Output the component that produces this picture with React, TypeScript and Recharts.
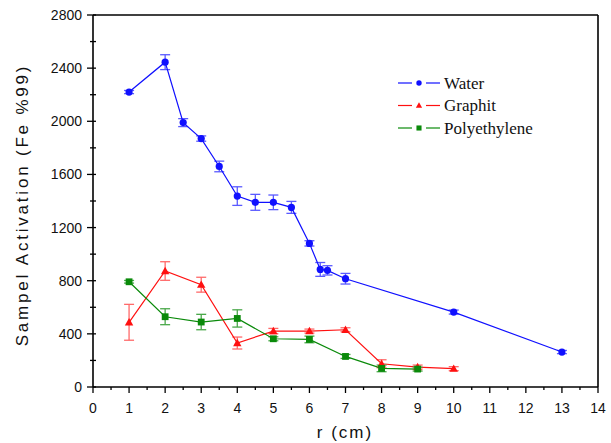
import React from 'react';
import { LineChart, Line, XAxis, YAxis, ErrorBar, Legend } from 'recharts';

// Water
const waterR = [1, 2, 2.5, 3, 3.5, 4, 4.5, 5, 5.5, 6, 6.3, 6.5, 7, 10, 13];
const waterA = [2220, 2445, 1990, 1870, 1660, 1437, 1390, 1390, 1352, 1081, 885, 878, 815, 564, 263];
const waterErr = [12, 56, 30, 20, 40, 70, 60, 55, 45, 20, 52, 35, 40, 15, 12];

// Graphit
const graphitR = [1, 2, 3, 4, 5, 6, 7, 8, 9, 10];
const graphitA = [487, 873, 770, 331, 421, 421, 431, 175, 150, 138];
const graphitErr = [135, 70, 56, 45, 20, 15, 15, 30, 15, 15];

// Polyethylene
const polyR = [1, 2, 3, 4, 5, 6, 7, 8, 9];
const polyA = [792, 529, 489, 516, 363, 358, 230, 140, 135];
const polyErr = [10, 60, 58, 65, 15, 25, 15, 25, 15];

const xTicks = [0, 0.5, 1, 1.5, 2, 2.5, 3, 3.5, 4, 4.5, 5, 5.5, 6, 6.5, 7, 7.5, 8, 8.5, 9, 9.5, 10, 10.5, 11, 11.5, 12, 12.5, 13, 13.5, 14];
const xLabels = [0, 1, 2, 3, 4, 5, 6, 7, 8, 9, 10, 11, 12, 13, 14];
const yTicks = [0, 200, 400, 600, 800, 1000, 1200, 1400, 1600, 1800, 2000, 2200, 2400, 2600, 2800];
const yLabels = [0, 400, 800, 1200, 1600, 2000, 2400, 2800];

const series = [
  { name: 'Water', color: '#1010ff', err: '#5a5aff', shape: 'circle', r: waterR, a: waterA, e: waterErr },
  { name: 'Graphit', color: '#ff1010', err: '#ff6a6a', shape: 'triangle', r: graphitR, a: graphitA, e: graphitErr },
  { name: 'Polyethylene', color: '#0a8a0a', err: '#4aa84a', shape: 'square', r: polyR, a: polyA, e: polyErr },
];

const sans = '"Liberation Sans", Arial, sans-serif';
const serif = '"Liberation Serif", "DejaVu Serif", "Times New Roman", serif';

const Marker = ({ cx, cy, shape, color, size = 1 }: any) => {
  if (cx == null || cy == null) return null;
  if (shape === 'circle') return <circle cx={cx} cy={cy} r={3.6 * size} fill={color} />;
  if (shape === 'triangle') {
    const s = 4.2 * size;
    return <polygon points={`${cx},${cy - s} ${cx - s},${cy + s * 0.75} ${cx + s},${cy + s * 0.75}`} fill={color} />;
  }
  const s = 3.4 * size;
  return <rect x={cx - s} y={cy - s} width={s * 2} height={s * 2} fill={color} />;
};

const BottomTick = (props: any) => {
  const { x, y, payload } = props;
  const major = xLabels.includes(payload.value);
  return (
    <g>
      <line x1={x} x2={x} y1={y} y2={y + (major ? 6 : 3)} stroke="#000" strokeWidth={1.3} />
      {major && (
        <text x={x} y={y + 26} textAnchor="middle" fontSize={14} fontFamily={sans} fill="#111">
          {payload.value}
        </text>
      )}
    </g>
  );
};

const TopTick = (props: any) => {
  const { x, y, payload } = props;
  const major = xLabels.includes(payload.value);
  return <line x1={x} x2={x} y1={y} y2={y + (major ? 6 : 3)} stroke="#000" strokeWidth={1.3} />;
};

const LeftTick = (props: any) => {
  const { x, y, payload } = props;
  const major = yLabels.includes(payload.value);
  return (
    <g>
      <line x1={x - (major ? 6 : 3)} x2={x + 3} y1={y} y2={y} stroke="#000" strokeWidth={1.3} />
      {major && (
        <text x={x - 11} y={y + 5} textAnchor="end" fontSize={14} fontFamily={sans} fill="#111">
          {payload.value}
        </text>
      )}
    </g>
  );
};

const RightTick = (props: any) => {
  const { x, y, payload } = props;
  const major = yLabels.includes(payload.value);
  return <line x1={x} x2={x - (major ? 6 : 3)} y1={y} y2={y} stroke="#000" strokeWidth={1.3} />;
};

const LegendBox = () => (
  <svg width={170} height={72}>
    {series.map((s, i) => {
      const y = 11 + i * 22.5;
      return (
        <g key={s.name}>
          <line x1={2} x2={16} y1={y} y2={y} stroke={s.color} strokeWidth={1.2} />
          <Marker cx={23} cy={y} shape={s.shape} color={s.color} size={0.75} />
          <line x1={30} x2={44} y1={y} y2={y} stroke={s.color} strokeWidth={1.2} />
          <text x={48} y={y + 5.5} fontSize={17} fontFamily={serif} fill="#111">
            {s.name}
          </text>
        </g>
      );
    })}
  </svg>
);

export default function App() {
  return (
    <div style={{ position: 'absolute', left: 0, top: 0, width: 611, height: 443, background: '#fff' }}>
      <LineChart width={611} height={443} margin={{ top: 0, right: 0, bottom: 0, left: 0 }}>
        <XAxis
          xAxisId="b"
          type="number"
          dataKey="r"
          domain={[0, 14]}
          ticks={xTicks}
          interval={0}
          height={56}
          tickSize={0}
          tickMargin={0}
          tick={<BottomTick />}
          axisLine={{ stroke: '#000', strokeWidth: 1.6 }}
          allowDataOverflow
        />
        <XAxis
          xAxisId="t"
          orientation="top"
          type="number"
          dataKey="r"
          domain={[0, 14]}
          ticks={xTicks}
          interval={0}
          height={15}
          tickSize={0}
          tickMargin={0}
          tick={<TopTick />}
          axisLine={{ stroke: '#000', strokeWidth: 1.6 }}
        />
        <YAxis
          yAxisId="l"
          type="number"
          domain={[0, 2800]}
          ticks={yTicks}
          interval={0}
          width={93}
          tickSize={0}
          tickMargin={0}
          tick={<LeftTick />}
          axisLine={{ stroke: '#000', strokeWidth: 1.6 }}
          allowDataOverflow
        />
        <YAxis
          yAxisId="r"
          orientation="right"
          type="number"
          domain={[0, 2800]}
          ticks={yTicks}
          interval={0}
          width={13}
          tickSize={0}
          tickMargin={0}
          tick={<RightTick />}
          axisLine={{ stroke: '#000', strokeWidth: 1.6 }}
        />
        <Legend
          content={<LegendBox />}
          layout="vertical"
          verticalAlign="middle"
          align="center"
          wrapperStyle={{ position: 'absolute', left: 396, top: 72, width: 170 }}
        />
        {series.map((s) => (
          <Line
            key={s.name}
            name={s.name}
            xAxisId="b"
            yAxisId="l"
            data={s.r.map((r, i) => ({ r, a: s.a[i], err: s.e[i] }))}
            dataKey="a"
            type="linear"
            stroke={s.color}
            strokeWidth={1.2}
            isAnimationActive={false}
            dot={(p: any) => <Marker key={`${s.name}-${p.index}`} cx={p.cx} cy={p.cy} shape={s.shape} color={s.color} />}
            activeDot={false}
          >
            <ErrorBar dataKey="err" direction="y" width={5} stroke={s.err} strokeWidth={1.3} isAnimationActive={false} />
          </Line>
        ))}
      </LineChart>
      <svg width={611} height={443} style={{ position: 'absolute', left: 0, top: 0, pointerEvents: 'none' }}>
        <text x={345} y={438} textAnchor="middle" fontSize={17} letterSpacing={2} fontFamily={sans} fill="#111">
          r (cm)
        </text>
        <text
          x={0}
          y={0}
          transform="translate(28,205) rotate(-90)"
          textAnchor="middle"
          fontSize={17}
          letterSpacing={2.8}
          fontFamily={sans}
          fill="#111"
        >
          Sampel Activation (Fe %99)
        </text>
      </svg>
    </div>
  );
}
